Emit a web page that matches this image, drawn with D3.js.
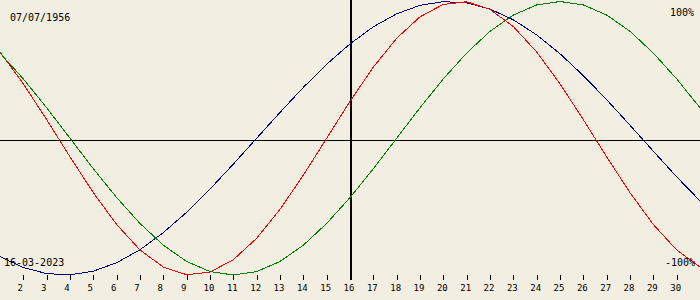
<!DOCTYPE html>
<html><head><meta charset="utf-8">
<script src="https://cdn.jsdelivr.net/npm/d3@7"></script>
<style>
html,body{margin:0;padding:0;background:#f2eee2;}
svg{display:block;}
text{font-family:"DejaVu Sans Mono",monospace;font-size:10px;fill:#000;}
</style></head><body>
<svg id="c" width="700" height="300"></svg>
<script>
const days = d3.range(1, 32);
const tickDays = d3.range(2, 31);
const todayDay = 16;
const birthLabel = "07/07/1956";
const dateLabel = "16-03-2023";
const topLabel = "100%";
const bottomLabel = "-100%";
const physical = [0.631,0.398,0.136,-0.136,-0.398,-0.631,-0.817,-0.942,-0.998,-0.979,-0.888,-0.731,-0.520,-0.270,0.000,0.270,0.520,0.731,0.888,0.979,0.998,0.942,0.817,0.631,0.398,0.136,-0.136,-0.398,-0.631,-0.817,-0.942];
const emotional = [0.623,0.434,0.223,0.000,-0.223,-0.434,-0.623,-0.782,-0.901,-0.975,-1.000,-0.975,-0.901,-0.782,-0.623,-0.434,-0.223,0.000,0.223,0.434,0.623,0.782,0.901,0.975,1.000,0.975,0.901,0.782,0.623,0.434,0.223];
const intellectual = [-0.866,-0.945,-0.990,-0.999,-0.972,-0.910,-0.815,-0.690,-0.541,-0.372,-0.189,0.000,0.189,0.372,0.541,0.690,0.815,0.910,0.972,0.999,0.990,0.945,0.866,0.756,0.618,0.458,0.282,0.095,-0.095,-0.282,-0.458];
const seriesColors = ["#ff0000", "#008000", "#000080"];

const svg = d3.select("#c");
const W = 700, H = 300;
svg.append("rect").attr("width", W).attr("height", H).attr("fill", "#f2eee2");

const x = d3.scaleLinear().domain([1, 31]).range([0, 700]);
const y = d3.scaleLinear().domain([-1, 1]).range([275, 1.5]);

// midline
svg.append("line").attr("x1", 0).attr("x2", W).attr("y1", 140.5).attr("y2", 140.5)
  .attr("stroke", "#000").attr("stroke-width", 1);
// today line
svg.append("line").attr("x1", x(todayDay) + 1).attr("x2", x(todayDay) + 1).attr("y1", 0).attr("y2", 280)
  .attr("stroke", "#000").attr("stroke-width", 2);

// ticks
const tg = svg.append("g");
tg.selectAll("line").data(tickDays).enter().append("line")
  .attr("x1", d => Math.round(x(d)) + 0.5).attr("x2", d => Math.round(x(d)) + 0.5)
  .attr("y1", 275).attr("y2", 280).attr("stroke", "#000").attr("stroke-width", 1);
tg.selectAll("text").data(tickDays).enter().append("text")
  .attr("x", d => x(d) + (d < 10 ? -3 : -1)).attr("y", 291)
  .attr("text-anchor", "middle").style("font-size", "9px").text(d => d);

// series
const line = d3.line().x((d, i) => x(days[i])).y(d => y(d));
[intellectual, physical, emotional].forEach((s, k) => {
  const col = [seriesColors[2], seriesColors[0], seriesColors[1]][k];
  svg.append("path").datum(s).attr("d", line).attr("fill", "none")
    .attr("stroke", col).attr("stroke-width", 1).attr("shape-rendering", "crispEdges");
});

// labels
svg.append("text").attr("x", 10).attr("y", 21).text(birthLabel);
svg.append("text").attr("x", 694).attr("y", 16).attr("text-anchor", "end").text(topLabel);
svg.append("text").attr("x", 4).attr("y", 266).text(dateLabel);
svg.append("text").attr("x", 695).attr("y", 266).attr("text-anchor", "end").text(bottomLabel);
</script>
</body></html>
